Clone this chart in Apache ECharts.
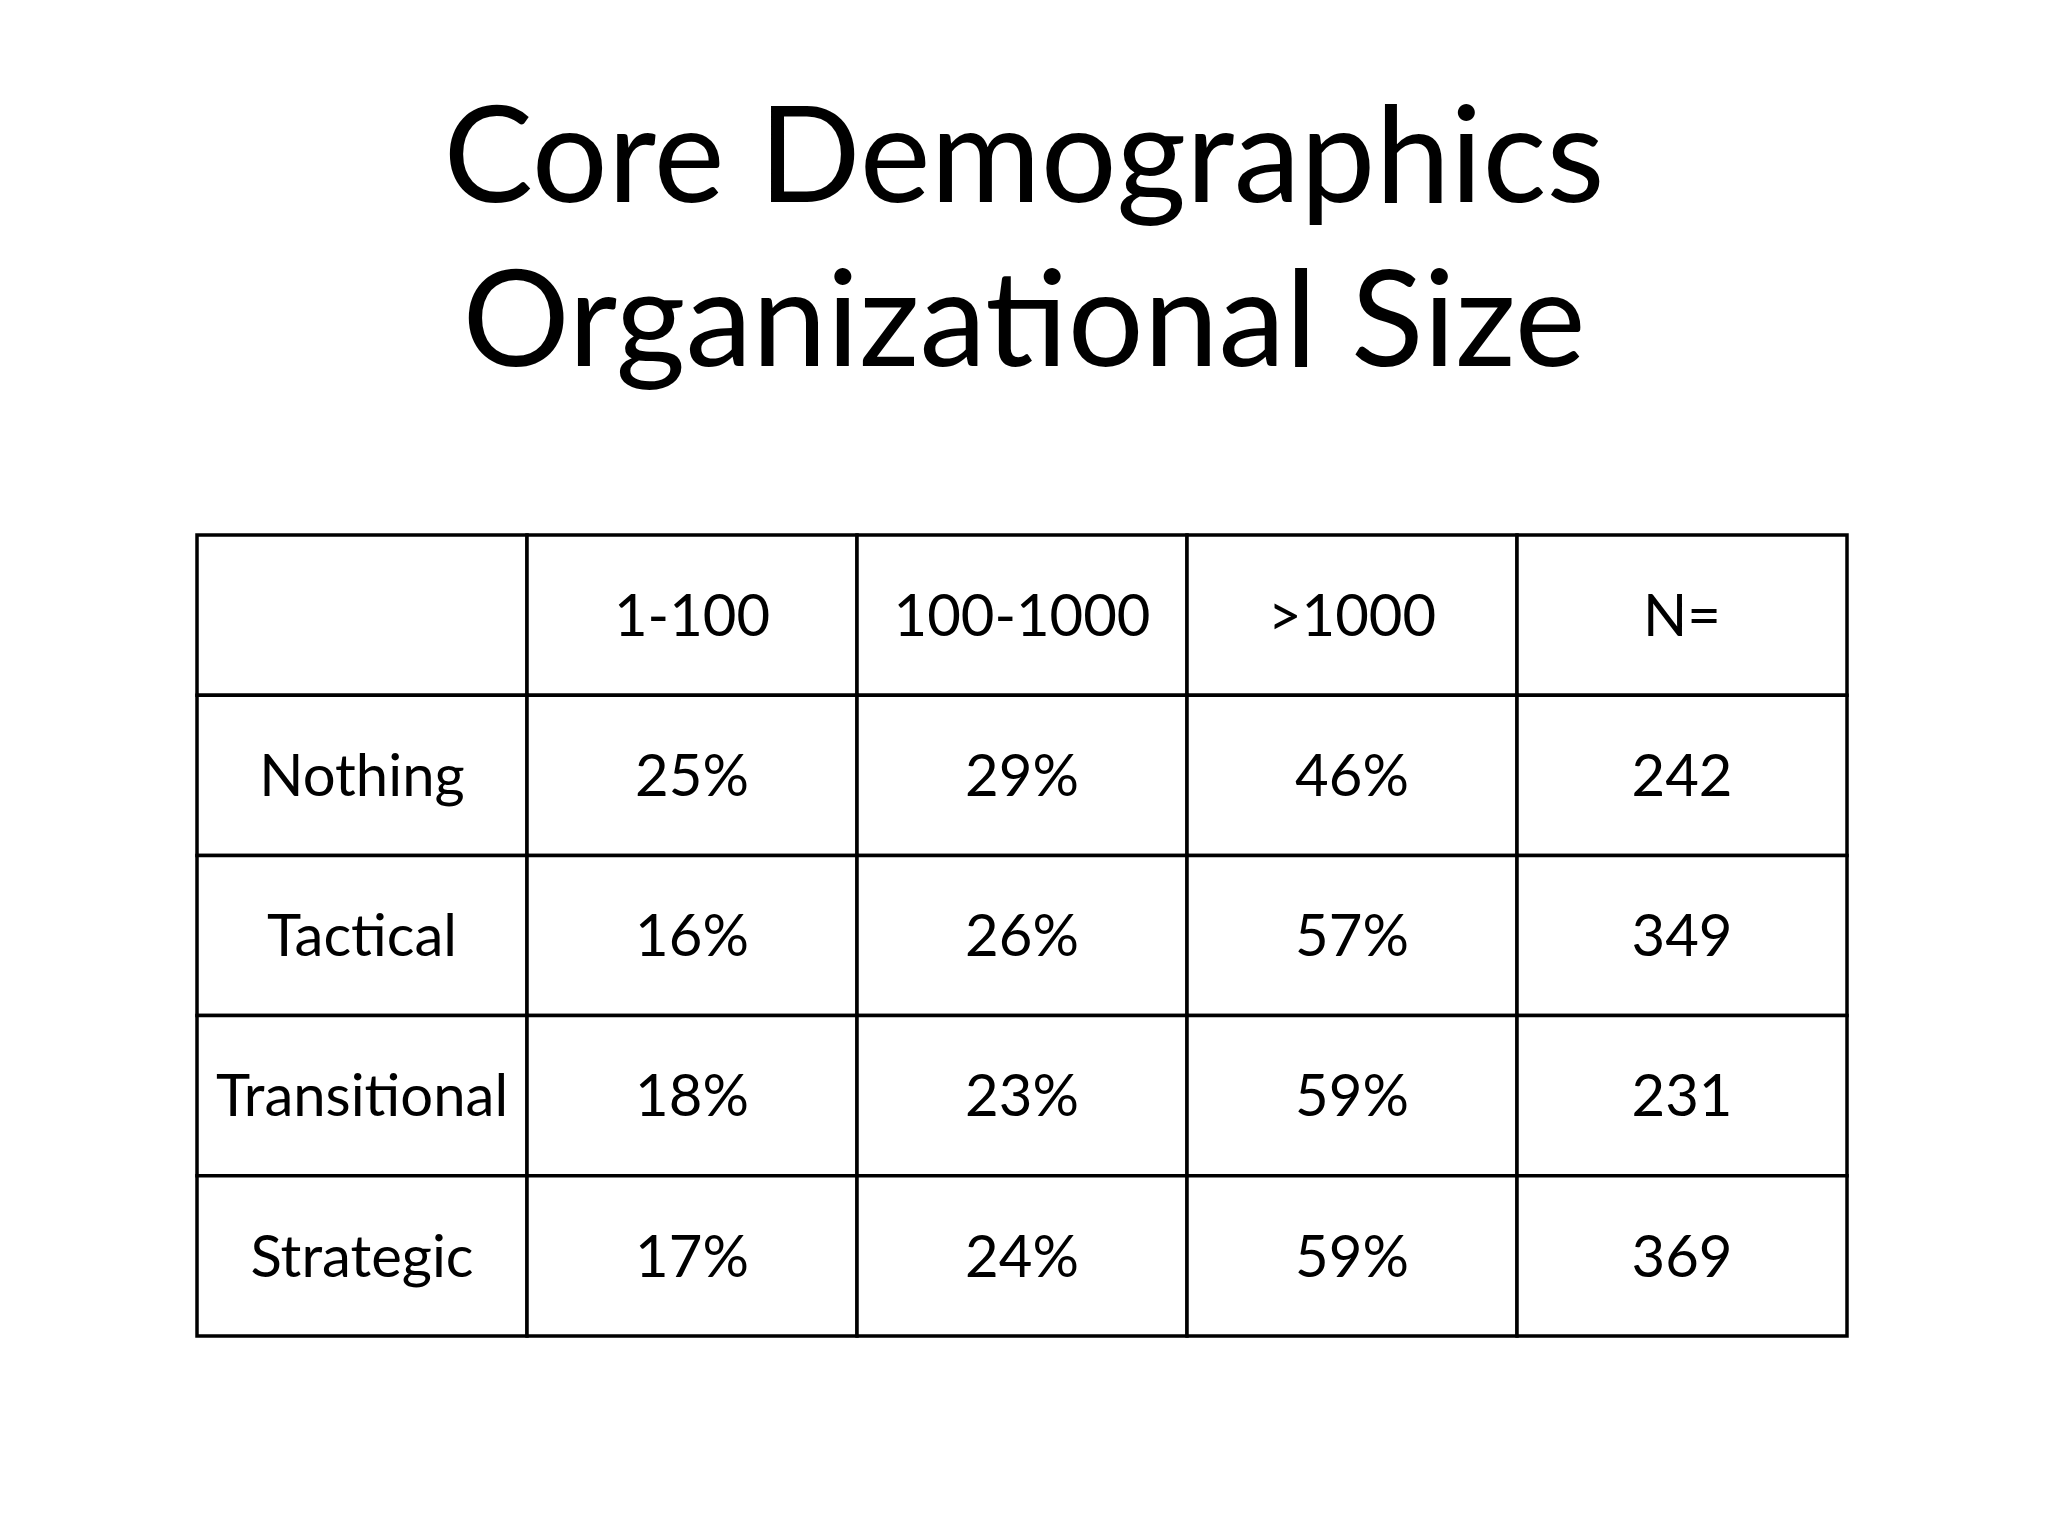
<!DOCTYPE html>
<html><head><meta charset="utf-8">
<script src="https://cdn.jsdelivr.net/npm/echarts@6/dist/echarts.min.js"></script>
<style>html,body{margin:0;padding:0;background:#fff}#c{width:2048px;height:1536px}</style>
</head><body><div id="c"></div>
<script>
const titleLines = ['Core Demographics', 'Organizational Size'];
const columns = ['', '1-100', '100-1000', '>1000', 'N='];
const rows = ['Nothing', 'Tactical', 'Transitional', 'Strategic'];
const small = ['25%', '16%', '18%', '17%'];
const medium = ['29%', '26%', '23%', '24%'];
const large = ['46%', '57%', '59%', '59%'];
const nValues = ['242', '349', '231', '369'];

const cells = [];
columns.forEach((c, i) => cells.push([i, 0, c]));
rows.forEach((r, j) => {
  const vals = [r, small[j], medium[j], large[j], nValues[j]];
  vals.forEach((v, i) => cells.push([i, j + 1, v]));
});

const chart = echarts.init(document.getElementById('c'));
chart.setOption({
  backgroundColor: '#fff',
  title: {
    text: titleLines.join('\n'), left: 'center', top: 72,
    textStyle: {fontFamily: 'Lato', fontWeight: 'normal', fontSize: 134, lineHeight: 164, color: '#000'}
  },
  grid: {left: 197, right: 201, top: 535, bottom: 200},
  xAxis: {type: 'category', data: [0,1,2,3,4], show: false},
  yAxis: {type: 'category', data: [0,1,2,3,4], inverse: true, show: false},
  series: [{
    type: 'custom',
    data: cells,
    renderItem: function (params, api) {
      const p = api.coord([api.value(0), api.value(1)]);
      const s = api.size([1, 1]);
      return {
        type: 'group',
        children: [
          {type: 'rect', shape: {x: p[0] - s[0]/2, y: p[1] - s[1]/2, width: s[0], height: s[1]},
           style: {fill: '#fff', stroke: '#000', lineWidth: 3.5}},
          {type: 'text', x: p[0], y: p[1] + 2,
           style: {text: cells[params.dataIndex][2], align: 'center', verticalAlign: 'middle',
                   fontFamily: 'Lato', fontSize: 58, fill: '#000'}}
        ]
      };
    }
  }]
});
</script></body></html>
